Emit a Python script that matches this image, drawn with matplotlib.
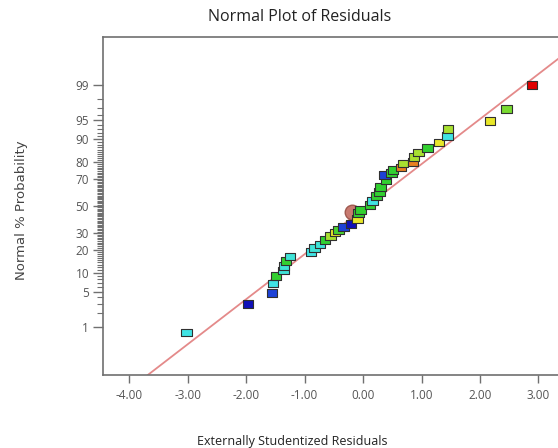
import matplotlib
matplotlib.use("Agg")
import matplotlib.pyplot as plt
from matplotlib.colors import LinearSegmentedColormap
from statistics import NormalDist

# externally studentized residuals and their normal quantile position
resid = [-3.02, -1.97, -1.56, -1.54, -1.49, -1.36, -1.35, -1.32, -1.25,
         -0.89, -0.83, -0.74, -0.65, -0.56, -0.48, -0.42, -0.34, -0.21,
         -0.10, -0.08, -0.04, 0.115, 0.16, 0.23, 0.285, 0.30, 0.39, 0.37,
         0.485, 0.51, 0.645, 0.685, 0.855, 0.87, 0.95, 1.10, 1.30, 1.44,
         1.45, 2.17, 2.45, 2.89]
zscore = [-2.43, -1.89, -1.67, -1.49, -1.35, -1.24, -1.15, -1.06, -0.97,
          -0.89, -0.81, -0.74, -0.65, -0.58, -0.51, -0.46, -0.40, -0.35,
          -0.25, -0.13, -0.08, 0.02, 0.10, 0.19, 0.275, 0.37, 0.49, 0.60,
          0.63, 0.69, 0.74, 0.82, 0.85, 0.94, 1.03, 1.11, 1.22, 1.35,
          1.48, 1.64, 1.87, 2.33]
# colour value of each run (0 = low / blue, 1 = high / red)
cval = [0.35, 0.0, 0.08, 0.35, 0.5, 0.36, 0.36, 0.5, 0.36,
        0.35, 0.36, 0.36, 0.5, 0.6, 0.7, 0.52, 0.08, 0.0,
        0.7, 0.5, 0.5, 0.5, 0.35, 0.5, 0.5, 0.5, 0.5, 0.08,
        0.5, 0.5, 0.85, 0.6, 0.85, 0.6, 0.6, 0.5, 0.7, 0.35,
        0.6, 0.7, 0.56, 1.0]
highlight = (-0.19, -0.11)

line_x = [-4.6, 3.5]
line_slope, line_icpt = 0.866, -0.06

major_pct = [1, 5, 10, 20, 30, 50, 70, 80, 90, 95, 99]
xticks = [-4, -3, -2, -1, 0, 1, 2, 3]

nd = NormalDist()
cmap = LinearSegmentedColormap.from_list("de", [
    (0.0, "#1010b8"), (0.1, "#2050e0"), (0.35, "#40e4e4"), (0.5, "#30d030"),
    (0.6, "#a8e030"), (0.7, "#e8e828"), (0.85, "#e88020"), (1.0, "#e00000")])

fig = plt.figure(figsize=(5.58, 4.48), dpi=100)
ax = fig.add_axes([103/558, 1-375/448, 460/558, 338/448])

ax.plot(line_x, [line_slope*v + line_icpt for v in line_x], color="#e48a8a", lw=1.3, zorder=1)

rect = [(-1, -0.72), (1, -0.72), (1, 0.72), (-1, 0.72), (-1, -0.72)]
ax.scatter(highlight[0], highlight[1], s=110, marker="o", color="#c87a70", edgecolor="#a05a50", zorder=2)
ax.scatter(resid, zscore, c=cval, cmap=cmap, vmin=0, vmax=1, marker=rect, s=58,
           edgecolors="#303030", linewidths=0.8, zorder=3)

ax.set_xlim(-4.45, 3.42)
ax.set_ylim(-3.25, 3.25)

ax.set_xticks(xticks)
ax.set_xticklabels(["%.2f" % v for v in xticks])
ax.set_yticks([nd.inv_cdf(p/100) for p in major_pct])
ax.set_yticklabels([str(p) for p in major_pct])
ax.set_yticks([nd.inv_cdf(p/100) for p in range(1, 100)], minor=True)

ax.tick_params(axis="x", length=6, width=1, color="#707070", labelsize=8.5, labelcolor="#555555", pad=4)
ax.tick_params(axis="y", which="major", length=7, width=1, color="#707070", labelsize=8.5, labelcolor="#555555", pad=3)
ax.tick_params(axis="y", which="minor", length=4, width=0.8, color="#707070")
for lab in ax.get_xticklabels() + ax.get_yticklabels():
    lab.set_family("Open Sans")

for s in ax.spines.values():
    s.set_color("#707070")
    s.set_linewidth(1.2)

fig.text(0.537, 1-17/448, "Normal Plot of Residuals", ha="center", va="center",
         fontsize=11.5, family="Open Sans", color="#222222")
fig.text(292/558, 1-441/448, "Externally Studentized Residuals", ha="center", va="center",
         fontsize=9, family="Open Sans", color="#222222")
fig.text(22/558, 1-210/448, "Normal % Probability", rotation=90, ha="center", va="center",
         fontsize=9.5, family=["Liberation Sans Narrow", "DejaVu Sans"], color="#444444")

fig.savefig("out.png", dpi=100)
